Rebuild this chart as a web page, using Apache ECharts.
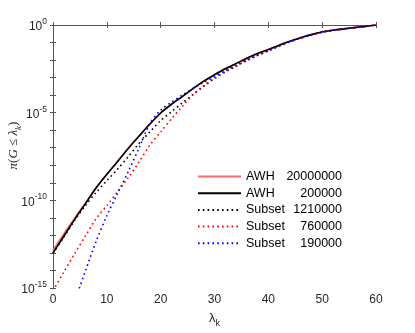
<!DOCTYPE html>
<html>
<head>
<meta charset="utf-8">
<script src="https://cdn.jsdelivr.net/npm/echarts@6.0.0/dist/echarts.min.js"></script>
<style>
  html, body { margin: 0; padding: 0; background: #fff; }
  #chart { width: 415px; height: 333px; }
</style>
</head>
<body>
<div id="chart"></div>
<script>
// lambda_k values (x axis)
const lambda = [0, 2, 4, 6, 8, 10, 12, 14, 16, 18, 20, 22, 24, 26, 28, 30,
  32, 34, 36, 38, 40, 42, 44, 46, 48, 50, 52, 54, 56, 58, 60]

// log10 of pi(G <= lambda_k)
const awhLong = [-12.85, -11.92, -11.02, -10.16, -9.28, -8.51, -7.78, -7.03, -6.33, -5.65,
  -5.02, -4.52, -4.08, -3.63, -3.2, -2.84, -2.5, -2.2, -1.9, -1.63, -1.4, -1.15,
  -0.93, -0.73, -0.55, -0.4, -0.3, -0.22, -0.15, -0.08, 0]
const awhShort = [-13.0, -12.05, -11.1, -10.2, -9.3, -8.52, -7.78, -7.03, -6.33, -5.65,
  -5.02, -4.52, -4.08, -3.63, -3.2, -2.84, -2.5, -2.2, -1.9, -1.63, -1.4, -1.15,
  -0.93, -0.73, -0.55, -0.4, -0.3, -0.22, -0.15, -0.08, 0]
const subset1210 = [-13.0, -12.1, -11.15, -10.3, -9.55, -8.88, -8.22, -7.5, -6.75, -6.1,
  -5.45, -4.95, -4.45, -3.97, -3.5, -3.05, -2.68, -2.35, -2.03, -1.74, -1.47, -1.2,
  -0.95, -0.74, -0.56, -0.41, -0.3, -0.22, -0.15, -0.08, 0]
const subset760 = [-15.15, -14.1, -13.05, -12.05, -11.05, -10.3, -9.5, -8.7, -7.8, -6.85,
  -6.1, -5.35, -4.65, -3.98, -3.45, -3.0, -2.65, -2.3, -2.02, -1.74, -1.47, -1.2,
  -0.95, -0.74, -0.56, -0.41, -0.3, -0.22, -0.15, -0.08, 0]
const subset190 = [null, null, -15.8, -14.05, -12.35, -10.88, -9.6, -8.35, -7.0, -5.62,
  -4.85, -4.4, -4.0, -3.62, -3.27, -2.93, -2.6, -2.29, -2.0, -1.72, -1.46, -1.2,
  -0.95, -0.74, -0.56, -0.41, -0.3, -0.22, -0.15, -0.08, 0]

const seriesNames = ['AWH|20000000', 'AWH|200000', 'Subset|1210000', 'Subset|760000', 'Subset|190000']
const xTicks = [0, 10, 20, 30, 40, 50, 60]

const chart = echarts.init(document.getElementById('chart'))

const axisColor = '#555'
const textColor = '#262626'
const font = 'Liberation Sans, Arial, sans-serif'
const serif = 'Liberation Serif, DejaVu Serif, serif'

const pairs = (arr) => lambda.map((x, i) => [x, arr[i]])
const dots = [1.6, 3.2]

const mkLine = (name, arr, color, type, width, z) => ({
  name,
  type: 'line',
  data: pairs(arr),
  symbol: 'none',
  showSymbol: false,
  smooth: 0.3,
  clip: true,
  connectNulls: false,
  z,
  lineStyle: { color, width, type, cap: 'butt' },
  itemStyle: { color }
})

const option = {
  animation: false,
  backgroundColor: '#fff',
  grid: { left: 53, right: 39, top: 25, bottom: 45, containLabel: false, outerBoundsMode: 'none' },
  legend: {
    orient: 'vertical',
    left: 197,
    top: 170,
    itemWidth: 43,
    itemHeight: 12,
    itemGap: 3.7,
    padding: 0,
    data: seriesNames,
    itemStyle: { opacity: 0, borderWidth: 0 },
    textStyle: {
      fontFamily: font,
      fontSize: 12.5,
      color: '#000',
      rich: {
        n: { width: 45, fontFamily: font, fontSize: 12.5, color: '#000' },
        v: { width: 51, align: 'right', fontFamily: font, fontSize: 12.5, color: '#000' }
      }
    },
    formatter: (name) => {
      const p = name.split('|')
      return `{n|${p[0]}}{v|${p[1]}}`
    }
  },
  xAxis: [{
    type: 'value',
    min: 0,
    max: 60,
    interval: 10,
    name: '{l|λ}{k|k}',
    nameLocation: 'middle',
    nameGap: 24,
    nameMoveOverlap: false,
    nameTextStyle: {
      rich: {
        l: { fontFamily: font, fontSize: 13, color: textColor, verticalAlign: 'top' },
        k: { fontFamily: font, fontSize: 9, color: textColor, verticalAlign: 'top', padding: [7, 0, 0, 0] }
      }
    },
    axisLine: { lineStyle: { color: axisColor, width: 1 } },
    axisTick: { inside: true, length: 3, lineStyle: { color: axisColor } },
    axisLabel: {
      margin: 6,
      fontFamily: font,
      fontSize: 12,
      color: textColor,
      formatter: (v) => xTicks.includes(v) ? String(v) : ''
    },
    splitLine: { show: false }
  }, {
    type: 'value',
    position: 'top',
    min: 0,
    max: 60,
    interval: 10,
    axisLine: { lineStyle: { color: axisColor, width: 1 } },
    axisTick: { inside: true, length: 3, lineStyle: { color: axisColor } },
    axisLabel: { show: false },
    splitLine: { show: false }
  }],
  yAxis: [{
    type: 'value',
    min: -15,
    max: 0,
    interval: 1,
    name: '{i|π}{r|(}{i|G}{r| ≤ }{i|λ}{k|k}{r|)}',
    nameLocation: 'middle',
    nameRotate: 90,
    nameGap: 30,
    nameMoveOverlap: false,
    nameTextStyle: {
      padding: [0, 0, 0, 22],
      rich: {
        i: { fontFamily: serif, fontStyle: 'italic', fontSize: 13, color: textColor, verticalAlign: 'top' },
        r: { fontFamily: serif, fontSize: 13, color: textColor, verticalAlign: 'top' },
        k: { fontFamily: serif, fontStyle: 'italic', fontSize: 9, color: textColor, verticalAlign: 'top', padding: [7, 0, 0, 0] }
      }
    },
    axisLine: { lineStyle: { color: axisColor, width: 1 } },
    axisTick: { inside: true, length: 3, lineStyle: { color: axisColor } },
    axisLabel: {
      margin: 6,
      color: textColor,
      formatter: (v) => (v % 5 === 0 ? `{b|10}{s|${v}}` : ''),
      rich: {
        b: { fontFamily: font, fontSize: 12, color: textColor, verticalAlign: 'bottom' },
        s: { fontFamily: font, fontSize: 8.5, color: textColor, verticalAlign: 'bottom', padding: [0, 0, 7, 0] }
      }
    },
    splitLine: { show: false }
  }, {
    type: 'value',
    position: 'right',
    min: -15,
    max: 0,
    interval: 1,
    axisLine: { lineStyle: { color: axisColor, width: 1 } },
    axisTick: { inside: true, length: 3, lineStyle: { color: axisColor } },
    axisLabel: { show: false },
    splitLine: { show: false }
  }],
  series: [
    mkLine(seriesNames[0], awhLong, '#ff6a6a', 'solid', 1.6, 2),
    mkLine(seriesNames[1], awhShort, '#000000', 'solid', 1.6, 3),
    mkLine(seriesNames[2], subset1210, '#000000', dots, 1.6, 4),
    mkLine(seriesNames[3], subset760, '#ff0000', dots, 1.6, 4),
    mkLine(seriesNames[4], subset190, '#0000ff', dots, 1.6, 4)
  ]
}

chart.setOption(option)
</script>
</body>
</html>
